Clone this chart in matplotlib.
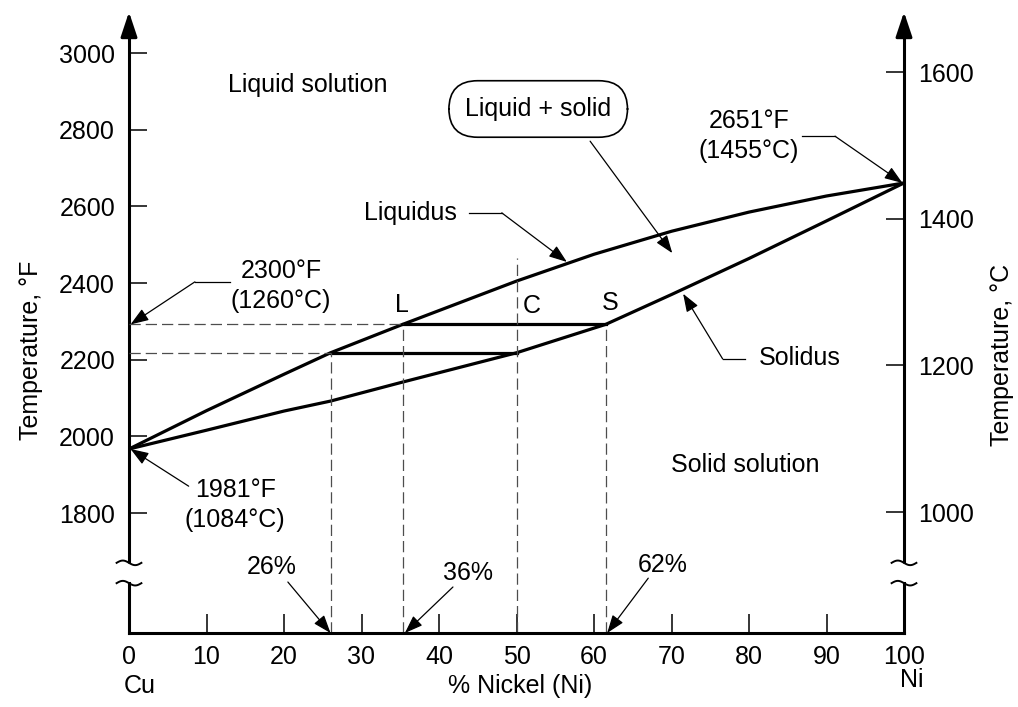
import matplotlib.pyplot as plt
import numpy as np

plt.rcParams['font.family'] = ['Liberation Sans', 'DejaVu Sans']
plt.rcParams['font.size'] = 18

# liquidus and solidus of the Cu-Ni system, temperature in deg F
ni_liquidus = [0, 10, 20, 26, 35.3, 50, 60, 70, 80, 90, 100]
t_liquidus = [1967, 2067, 2162, 2218, 2292, 2405, 2475, 2535, 2585, 2627, 2661]
ni_solidus = [0, 10, 20, 26, 35, 50, 61.5, 70, 80, 90, 100]
t_solidus = [1967, 2016, 2066, 2092, 2140, 2218, 2292, 2370, 2464, 2562, 2661]

# tie lines (L-S at 2300 F, and the lower one)
tie_left = [35.3, 26]
tie_right = [61.5, 50]
tie_temp = [2292, 2218]

# dashed guides down to the composition axis
guide_x = [26, 35.3, 50, 61.5]
guide_top = [2218, 2292, 2465, 2292]

f_ticks = [1800, 2000, 2200, 2400, 2600, 2800, 3000]
c_ticks = [1000, 1200, 1400, 1600]
x_ticks = list(range(0, 101, 10))

F_MIN, F_MAX = 1487, 3107
C_MIN, C_MAX = 835, 1682
BREAK_LO, BREAK_HI = 1617, 1670

fig = plt.figure(figsize=(10.18, 7.07), dpi=100)
ax = fig.add_axes([129 / 1018, 74 / 707, 775 / 1018, 621 / 707])
ax.set_xlim(0, 100)
ax.set_ylim(F_MIN, F_MAX)
for s in ['left', 'right', 'top']:
    ax.spines[s].set_visible(False)
ax.spines['bottom'].set_linewidth(2.2)
ax.spines['bottom'].set_capstyle('projecting')

ax.set_xticks(x_ticks)
ax.set_yticks(f_ticks)
ax.tick_params(axis='x', direction='in', length=14, width=1.1, pad=9)
ax.tick_params(axis='y', direction='in', length=13, width=1.1, pad=10)

ax2 = ax.twinx()
ax2.set_ylim(C_MIN, C_MAX)
ax2.set_yticks(c_ticks)
for s in ax2.spines.values():
    s.set_visible(False)
ax2.tick_params(direction='in', length=13, width=1.1, pad=10)

# vertical axes with break marks and arrow heads
tx = np.linspace(-1.6, 1.6, 30)
ty = -6 * np.sin(np.pi * tx / 1.6)
for xv in (0, 100):
    ax.plot([xv, xv], [F_MIN, BREAK_LO], color='k', lw=2.2, clip_on=False,
            solid_capstyle='projecting')
    ax.plot([xv, xv], [BREAK_HI, F_MAX - 40], color='k', lw=2.2, clip_on=False,
            solid_capstyle='butt')
    ax.annotate('', xy=(xv, F_MAX), xytext=(xv, F_MAX - 60),
                arrowprops=dict(arrowstyle='-|>,head_length=0.75,head_width=0.25',
                                color='k', lw=2.2, mutation_scale=20,
                                shrinkA=0, shrinkB=0),
                annotation_clip=False)
    for yb in (BREAK_LO, BREAK_HI):
        ax.plot(xv + tx, yb + ty, color='k', lw=1.4, clip_on=False)

# phase boundaries
ax.plot(ni_liquidus, t_liquidus, color='k', lw=2.3, solid_joinstyle='round')
ax.plot(ni_solidus, t_solidus, color='k', lw=2.3, solid_joinstyle='round')

dash = dict(color='0.3', lw=0.9, ls=(0, (9, 4)))
for l, r, t in zip(tie_left, tie_right, tie_temp):
    ax.plot([l, r], [t, t], color='k', lw=2.3)
    ax.plot([0, l], [t, t], **dash)
for x, top in zip(guide_x, guide_top):
    ax.plot([x, x], [F_MIN, top], **dash)


def pointer(path):
    xs, ys = zip(*path)
    if len(path) > 2:
        ax.plot(xs[:-1], ys[:-1], color='k', lw=0.9)
    ax.annotate('', xy=path[-1], xytext=path[-2],
                arrowprops=dict(arrowstyle='-|>,head_length=0.55,head_width=0.2',
                                color='k', lw=0.9, mutation_scale=20,
                                shrinkA=0, shrinkB=0),
                annotation_clip=False)


ax.text(23.0, 2917, 'Liquid solution', ha='center', va='center')
ax.text(79.5, 1925, 'Solid solution', ha='center', va='center')

ax.text(52.8, 2854, 'Liquid + solid', ha='center', va='center',
        bbox=dict(boxstyle='round,pad=0.65,rounding_size=1.15', fc='white',
                  ec='k', lw=1.2))
pointer([(59.5, 2770), (70.1, 2478)])

ax.text(36.3, 2583, 'Liquidus', ha='center', va='center')
pointer([(43.9, 2583), (48.1, 2583), (56.5, 2455)])

ax.text(86.6, 2204, 'Solidus', ha='center', va='center')
pointer([(79.5, 2202), (76.6, 2202), (71.5, 2372)])

ax.text(19.6, 2392, '2300°F\n(1260°C)', ha='center', va='center', linespacing=1.3)
pointer([(13.0, 2403), (8.5, 2403), (0.2, 2292)])

ax.text(13.7, 1821, '1981°F\n(1084°C)', ha='center', va='center', linespacing=1.3)
pointer([(7.7, 1870), (0.2, 1967)])

ax.text(80.0, 2783, '2651°F\n(1455°C)', ha='center', va='center', linespacing=1.3)
pointer([(86.8, 2783), (91.1, 2783), (99.8, 2661)])

ax.text(35.2, 2343, 'L', ha='center', va='center')
ax.text(52.0, 2340, 'C', ha='center', va='center')
ax.text(62.1, 2348, 'S', ha='center', va='center')

ax.text(18.45, 1659, '26%', ha='center', va='center')
pointer([(20.5, 1620), (26, F_MIN)])
ax.text(43.7, 1643, '36%', ha='center', va='center')
pointer([(41.8, 1607), (35.6, F_MIN)])
ax.text(68.8, 1664, '62%', ha='center', va='center')
pointer([(67.0, 1630), (61.7, F_MIN)])

xt = ax.get_xaxis_transform()
ax.text(50.5, -0.085, '% Nickel (Ni)', transform=xt, ha='center', va='center')
ax.text(1.4, -0.085, 'Cu', transform=xt, ha='center', va='center')
ax.text(101.0, -0.075, 'Ni', transform=xt, ha='center', va='center')

ax.set_ylabel('Temperature, °F')
ax.yaxis.set_label_coords(-0.111, 0.456)
ax2.set_ylabel('Temperature, °C', rotation=90)
ax2.yaxis.set_label_coords(1.111, 0.448)

fig.savefig('out.png', dpi=100)
